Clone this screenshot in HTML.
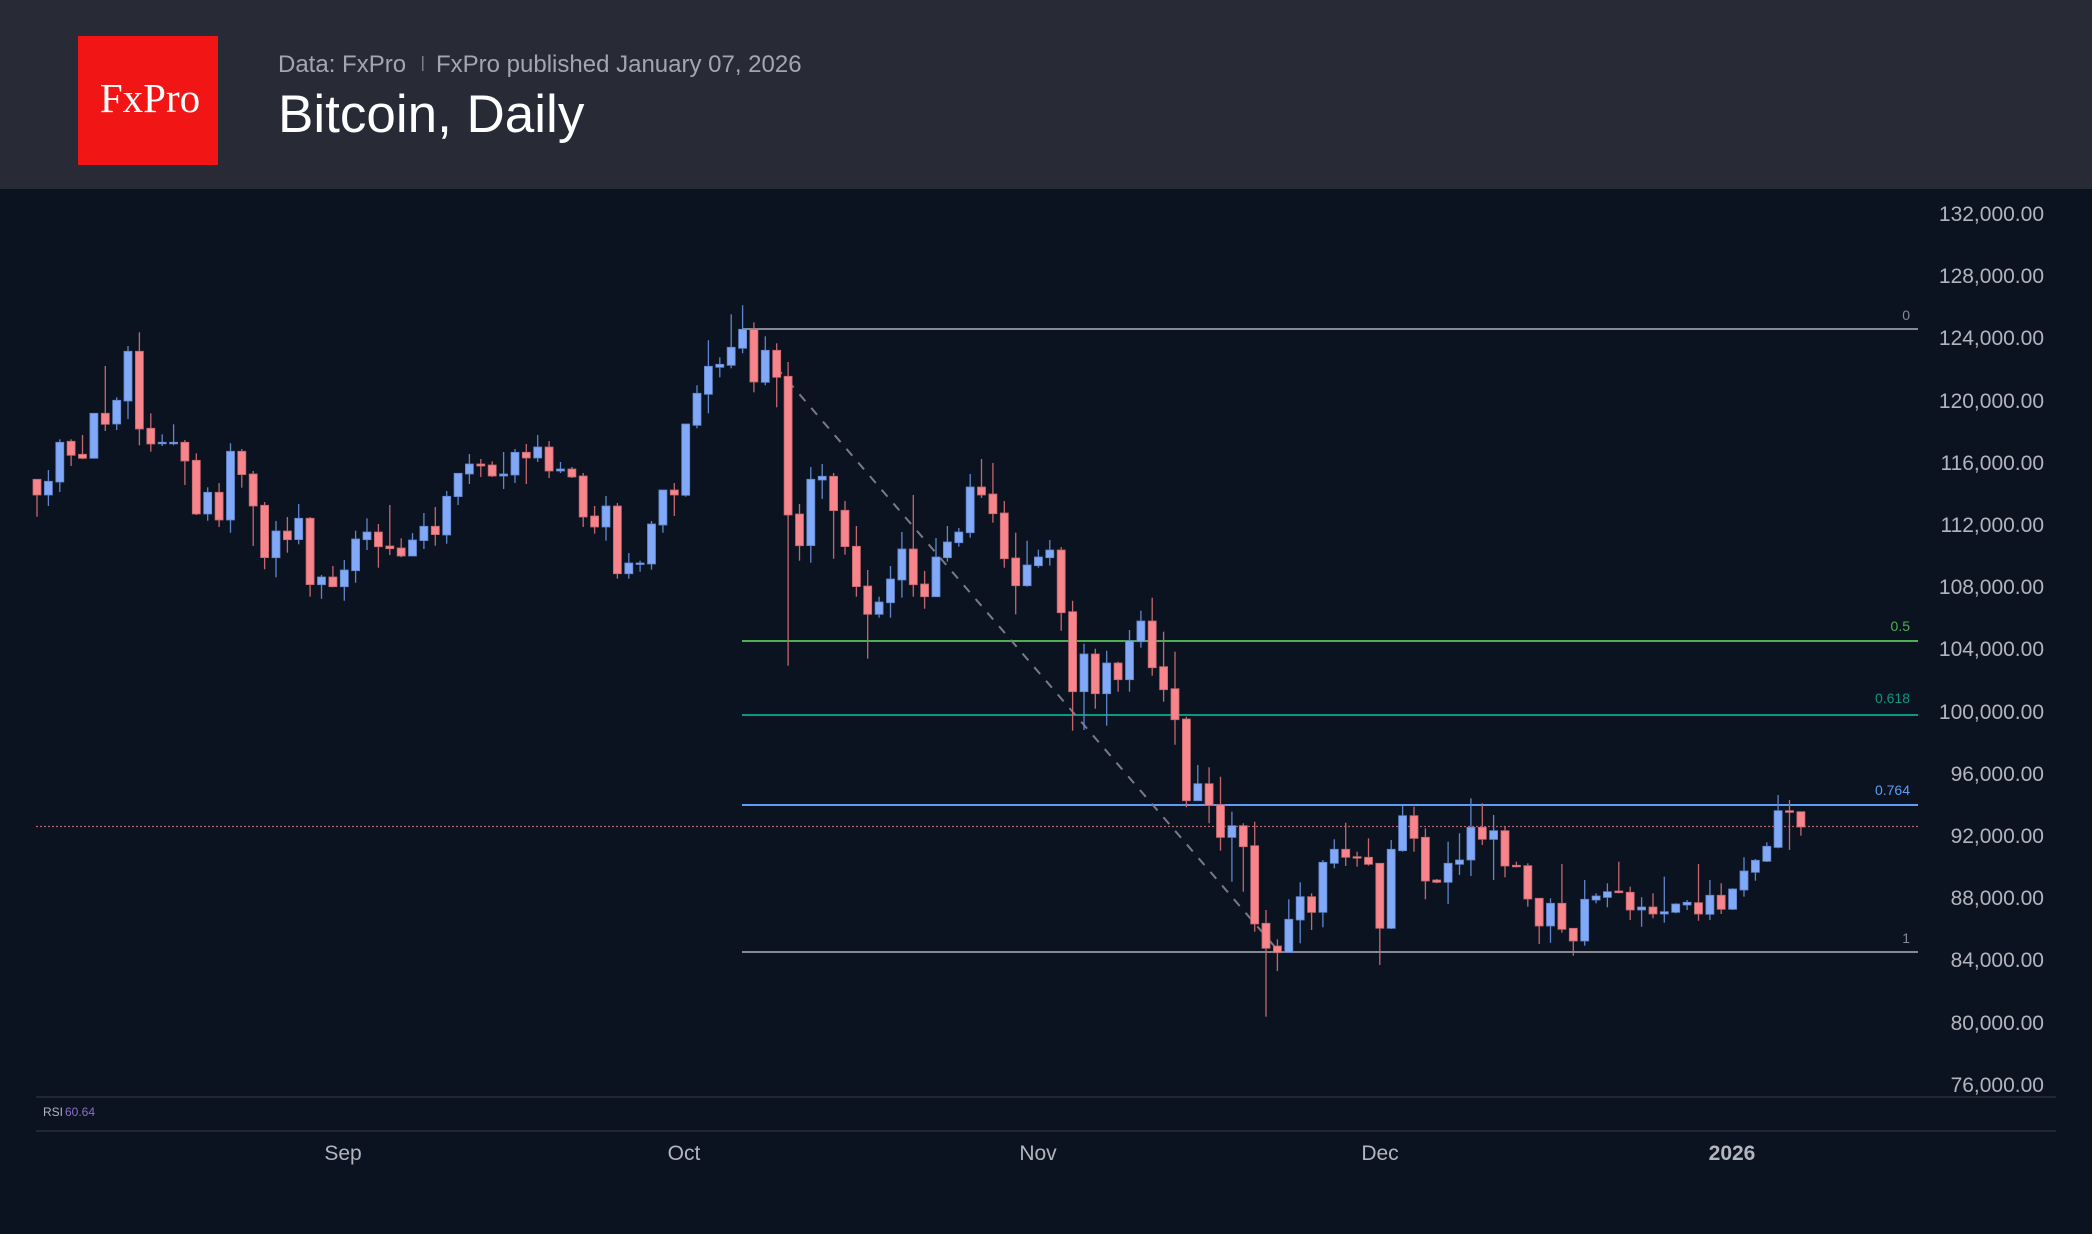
<!DOCTYPE html>
<html><head><meta charset="utf-8">
<style>
html,body{margin:0;padding:0;background:#0c1320;}
body{width:2092px;height:1234px;overflow:hidden;font-family:"Liberation Sans",sans-serif;}
svg{display:block}
</style></head>
<body>
<svg id="s" width="2092" height="1234" viewBox="0 0 2092 1234" xmlns="http://www.w3.org/2000/svg">
<rect x="0" y="0" width="2092" height="1234" fill="#0c1320"/>
<rect x="0" y="0" width="2092" height="189" fill="#282b36"/>
<rect x="78" y="36" width="140" height="129" fill="#f21515"/>
<text x="150" y="112" fill="#fff" font-family="Liberation Serif,serif" font-size="41" text-anchor="middle">FxPro</text>
<text x="278" y="72" fill="#a3a6ae" font-size="24">Data: FxPro</text>
<rect x="422" y="56" width="1.5" height="15" fill="#7a7d86"/>
<text x="436" y="72" fill="#a3a6ae" font-size="24">FxPro published January 07, 2026</text>
<text x="278" y="132" fill="#ffffff" font-size="53">Bitcoin, Daily</text>

<g font-size="21" fill="#b2b5be" text-anchor="end">
<text x="2044" y="221">132,000.00</text>
<text x="2044" y="283">128,000.00</text>
<text x="2044" y="345">124,000.00</text>
<text x="2044" y="408">120,000.00</text>
<text x="2044" y="470">116,000.00</text>
<text x="2044" y="532">112,000.00</text>
<text x="2044" y="594">108,000.00</text>
<text x="2044" y="656">104,000.00</text>
<text x="2044" y="719">100,000.00</text>
<text x="2044" y="781">96,000.00</text>
<text x="2044" y="843">92,000.00</text>
<text x="2044" y="905">88,000.00</text>
<text x="2044" y="967">84,000.00</text>
<text x="2044" y="1030">80,000.00</text>
<text x="2044" y="1092">76,000.00</text>
</g>

<line x1="36" y1="1097" x2="2056" y2="1097" stroke="#2a2e39" stroke-width="1.5"/>
<line x1="36" y1="1131" x2="2056" y2="1131" stroke="#2a2e39" stroke-width="1.5"/>
<text x="43" y="1116" font-size="12" fill="#b2b5be">RSI</text>
<text x="65" y="1116" font-size="12" fill="#8e6cc9">60.64</text>

<g font-size="21" fill="#b2b5be" text-anchor="middle">
<text x="343" y="1160">Sep</text>
<text x="684" y="1160">Oct</text>
<text x="1038" y="1160">Nov</text>
<text x="1380" y="1160">Dec</text>
<text x="1732" y="1160" font-weight="bold">2026</text>
</g>

<line x1="36" y1="826.5" x2="1918" y2="826.5" stroke="#f7858b" stroke-opacity="0.7" stroke-width="1.3" stroke-dasharray="2 2"/>

<line x1="742" y1="329" x2="1918" y2="329" stroke="#868993" stroke-width="2"/>
<line x1="742" y1="641" x2="1918" y2="641" stroke="#4caf50" stroke-width="2"/>
<line x1="742" y1="715" x2="1918" y2="715" stroke="#089981" stroke-width="2"/>
<line x1="742" y1="805" x2="1918" y2="805" stroke="#5b9cf6" stroke-width="2"/>
<line x1="742" y1="952" x2="1918" y2="952" stroke="#868993" stroke-width="2"/>
<g font-size="14" text-anchor="end">
<text x="1910" y="320" fill="#868993">0</text>
<text x="1910" y="631" fill="#4caf50">0.5</text>
<text x="1910" y="703" fill="#089981">0.618</text>
<text x="1910" y="795" fill="#5b9cf6">0.764</text>
<text x="1910" y="943" fill="#868993">1</text>
</g>
<line x1="776" y1="367" x2="1275" y2="947" stroke="#787b86" stroke-width="2" stroke-dasharray="9 9"/>
<g id="c"></g>
</svg>
<script>
var A=[
['R',538,585,538,650],['B',544,585,510,618],['B',427,546,418,576],['R',424,466,418,498],['R',463,475,405,478],
['B',340,475,340,475],['R',340,373,198,393],['B',301,372,292,390],['B',154,303,138,357],['R',154,387,97,436],
['R',385,432,340,455],['B',427,430,403,438],['B',427,430,373,436],['R',427,483,420,555],['R',481,642,460,645],
['B',577,642,562,662],['R',577,660,549,681],['B',454,660,430,698],['R',454,524,447,563],['R',522,618,513,738],
['R',616,773,606,808],['B',693,773,663,832],['R',693,719,651,758],['B',655,719,612,733],['R',655,854,651,890],
['B',831,854,825,896],['R',831,860,798,862],['B',810,860,780,902],['B',717,812,692,848],['B',696,719,655,750],
['R',696,740,672,803],['R',738,746,615,765],['R',744,768,715,772],['B',720,768,699,768],['B',679,722,639,747],
['R',679,704,621,737],['B',589,705,573,731],['B',520,590,520,615],['B',492,522,462,552],['R',492,498,477,531],
['R',495,528,484,531],['B',522,528,456,567],['B',457,525,447,549],['R',457,474,432,552],['B',441,474,405,486],
['R',441,513,423,534],['B',507,513,486,519],['R',507,531,501,534],['R',528,651,519,681],['R',648,681,618,701],
['B',618,681,588,722],['R',618,821,609,836],['B',789,821,759,836],['B',789,792,782,815],['B',672,792,663,809],
['B',570,675,570,698],['R',570,585,549,648],['B',372,586,372,590],['B',280,376,256,385],['B',199,283,121,340],
['B',193,202,172,232],['B',142,196,43,205],['B',88,145,16,160],['R',88,246,67,277],['B',151,247,109,256],
['R',151,232,130,322],['R',229,645,186,1097],
['R',642,737,612,782],['B',538,737,501,788],['B',529,540,492,597],['R',529,632,519,776],['R',631,740,603,764],
['R',739,860,678,890],['R',858,943,810,1076],['B',906,943,890,953],['B',837,908,798,953],['B',747,840,696,893],
['R',747,854,585,890],['R',852,890,813,926],['B',771,890,714,890],['B',726,773,678,785],['B',696,728,684,740],
['B',561,698,522,713],['R',561,585,477,594],['R',582,641,489,668],['R',639,776,603,803],['R',774,857,698,943],
['B',795,857,722,860],['B',771,797,749,803],['B',750,773,720,797],['R',750,938,741,992],['R',935,1175,902,1292],
['B',1062,1175,1031,1290],['R',1062,1181,1046,1226],['B',1089,1181,1052,1277],['R',1089,1139,1085,1175],['B',1022,1139,990,1175],
['B',963,1025,932,1043],['R',963,1103,893,1127],['R',1100,1169,995,1205],['R',1166,1259,1055,1334],
['R',1257,1502,1250,1522],['B',1451,1502,1395,1502],['R',1451,1516,1402,1570],['R',1514,1612,1430,1652],['B',1577,1612,1535,1745],
['R',1577,1640,1570,1775],['R',1637,1872,1565,1895],['R',1870,1945,1830,2150],['R',1938,1958,1918,2013],['B',1858,1958,1798,1958]
];
var Z=[
['B',350,420,307,490],['R',350,397,340,450],['B',247,397,240,442],['B',208,250,178,265],['R',208,232,128,258],
['R',230,234,215,260],['R',232,253,175,257],['R',250,445,250,555],['B',208,445,180,447],['B',107,212,78,215],
['R',107,175,80,215],['R',172,303,145,358],['R',300,307,297,310],['B',250,307,185,372],['B',240,253,160,285],
['B',142,240,55,288],['R',142,178,70,195],['B',152,178,105,300],['R',152,258,140,292],['R',256,260,245,262],
['R',257,357,250,380],['R',355,438,355,492],['B',370,438,355,488],['R',370,448,252,458],['R',445,483,445,527],
['B',358,483,300,497],['B',348,360,340,370],['B',335,352,310,382],['R',333,338,245,340],['R',337,390,320,420],
['B',381,390,352,440],['R',381,402,340,415],['B',395,402,290,428],['B',372,397,370,400],['B',367,375,360,390],
['R',368,402,252,422],['B',346,403,300,420],['R',346,388,310,402],['B',327,388,325,390],['B',273,330,232,350],
['B',241,277,237,302],['B',199,244,187,246],['B',92,202,45,205],['R',92,97,60,210],['R',95,141,95,167]
];
Z.forEach(function(d){A.push([d[0],d[1]+1440,d[2]+1440,d[3]+1440,d[4]+1440]);});
var h='';
function Y(v){return 300+v/3;}
A.forEach(function(d,i){
 var x=37+i*11.38, b=d[0]=='B';
 var fc=b?'#82a9f7':'#f7858b', wc=b?'#5f86cc':'#c4676d';
 var t=Y(d[1]),bb=Y(d[2]);if(bb-t<1.5)bb=t+1.5;
 h+='<line x1="'+x.toFixed(1)+'" y1="'+Y(d[3]).toFixed(1)+'" x2="'+x.toFixed(1)+'" y2="'+Y(d[4]).toFixed(1)+'" stroke="'+wc+'" stroke-width="1.3"/>';
 h+='<rect x="'+(x-4).toFixed(1)+'" y="'+t.toFixed(1)+'" width="8" height="'+(bb-t).toFixed(1)+'" fill="'+fc+'" stroke="'+wc+'" stroke-width="0.8"/>';
});
document.getElementById('c').innerHTML=h;
</script>
</body></html>
